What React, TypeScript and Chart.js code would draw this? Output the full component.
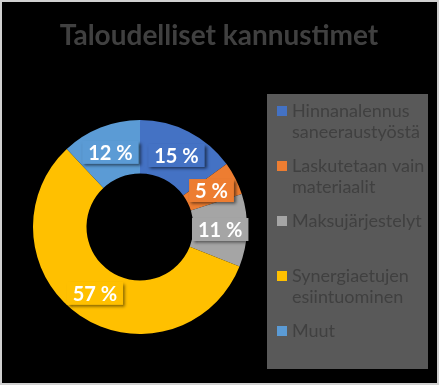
import React, { useEffect, useRef } from "react";
import { Chart, registerables } from "chart.js";
Chart.register(...registerables);

const chartTitle = "Taloudelliset kannustimet";
const categories = [
  "Hinnanalennus saneeraustyöstä",
  "Laskutetaan vain materiaalit",
  "Maksujärjestelyt",
  "Synergiaetujen esiintuominen",
  "Muut",
];
const legendLines = [
  ["Hinnanalennus", "saneeraustyöstä"],
  ["Laskutetaan vain", "materiaalit"],
  ["Maksujärjestelyt"],
  ["Synergiaetujen", "esiintuominen"],
  ["Muut"],
];
const values = [15, 5, 11, 57, 12];
const colors = ["#4472C4", "#ED7D31", "#A5A5A5", "#FFC000", "#5B9BD5"];

const W = 439;
const H = 385;
const FONT = "Lato, 'Open Sans', sans-serif";

const bgPlugin = {
  id: "bg",
  beforeDraw(chart: any) {
    const ctx = chart.ctx;
    ctx.save();
    ctx.fillStyle = "#d0d0d0";
    ctx.fillRect(0, 0, W, H);
    ctx.fillStyle = "#000";
    ctx.fillRect(2, 2, W - 4, H - 4);
    ctx.fillStyle = "#404040";
    ctx.font = `bold 28px ${FONT}`;
    ctx.textAlign = "center";
    ctx.textBaseline = "middle";
    ctx.fillText(chartTitle, 219, 36);
    ctx.restore();
  },
};

const legendPlugin = {
  id: "customLegend",
  afterDraw(chart: any) {
    const ctx = chart.ctx;
    ctx.save();
    ctx.fillStyle = "#595959";
    ctx.fillRect(267, 94, 161, 275);
    ctx.font = `18px ${FONT}`;
    ctx.textBaseline = "middle";
    ctx.textAlign = "left";
    const lineH = 21.5;
    const step = 55;
    legendLines.forEach((lines, i) => {
      const y0 = 111 + i * step;
      ctx.fillStyle = colors[i];
      ctx.fillRect(277, y0 - 5, 10, 10);
      ctx.fillStyle = "#404040";
      lines.forEach((t, j) => ctx.fillText(t, 292, y0 + j * lineH));
    });
    ctx.restore();
  },
};

const labelPlugin = {
  id: "sliceLabels",
  afterDatasetsDraw(chart: any) {
    const ctx = chart.ctx;
    const meta = chart.getDatasetMeta(0);
    ctx.save();
    ctx.font = `bold 20px ${FONT}`;
    ctx.textAlign = "center";
    ctx.textBaseline = "middle";
    meta.data.forEach((arc: any, i: number) => {
      const p = arc.tooltipPosition();
      const text = `${values[i]} %`;
      const tw = ctx.measureText(text).width;
      const bw = tw + 12;
      const bh = 23;
      ctx.save();
      ctx.shadowColor = "rgba(0,0,0,0.55)";
      ctx.shadowBlur = 3;
      ctx.shadowOffsetX = 2;
      ctx.shadowOffsetY = 2;
      ctx.fillStyle = colors[i];
      ctx.fillRect(p.x - bw / 2, p.y - bh / 2, bw, bh);
      ctx.restore();
      ctx.fillStyle = "#ffffff";
      ctx.fillText(text, p.x, p.y + 1);
    });
    ctx.restore();
  },
};

export default function App() {
  const ref = useRef<HTMLCanvasElement | null>(null);
  useEffect(() => {
    document.body.style.margin = "0";
    const chart = new Chart(ref.current as HTMLCanvasElement, {
      type: "doughnut",
      data: {
        labels: categories,
        datasets: [
          {
            data: values,
            backgroundColor: colors,
            borderWidth: 0,
          },
        ],
      },
      options: {
        animation: false,
        responsive: false,
        cutout: "50%",
        layout: { padding: { left: 33, right: 192, top: 120, bottom: 51 } },
        plugins: {
          legend: { display: false },
          tooltip: { enabled: false },
          title: { display: false },
        },
      },
      plugins: [bgPlugin, labelPlugin, legendPlugin],
    });
    return () => chart.destroy();
  }, []);
  return (
    <div style={{ width: W, height: H }}>
      <canvas ref={ref} width={W} height={H} style={{ display: "block" }} />
    </div>
  );
}
